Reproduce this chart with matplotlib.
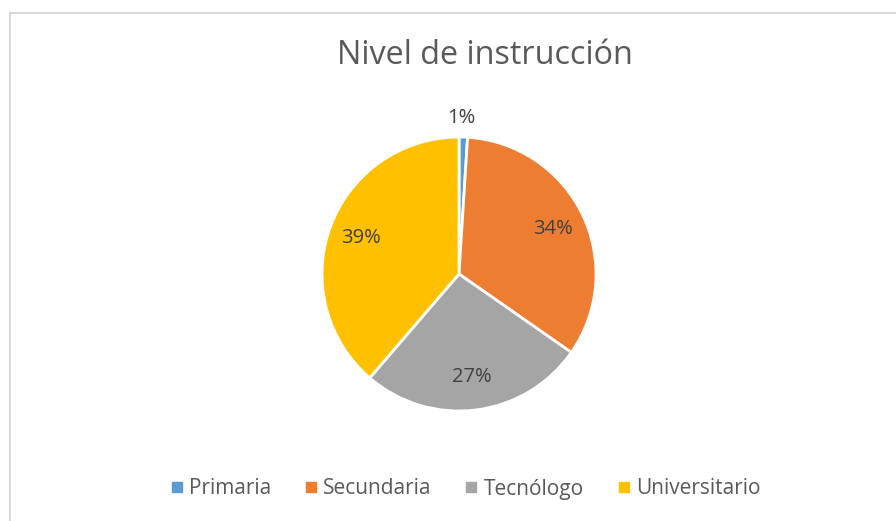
import matplotlib.pyplot as plt
from matplotlib.patches import Rectangle
from matplotlib.lines import Line2D

categories = ['Primaria', 'Secundaria', 'Tecnólogo', 'Universitario']
values = [1.0, 33.7, 26.6, 38.7]
colors = ['#5B9BD5', '#ED7D31', '#A5A5A5', '#FFC000']

W, H = 896, 521
fig = plt.figure(figsize=(W / 100, H / 100), dpi=100)
plt.rcParams['font.family'] = ['Open Sans', 'DejaVu Sans']

# chart frame (extends past right/bottom edge)
fig.patches.append(Rectangle((10 / W, -0.1), 1.2, 1.1 - 13 / H,
                             transform=fig.transFigure, fill=False,
                             edgecolor='#d9d9d9', linewidth=1.5))

cx, cy, r = 459, 274, 137
ax = fig.add_axes([(cx - r) / W, (H - cy - r) / H, 2 * r / W, 2 * r / H])
wedges, texts, autotexts = ax.pie(
    values, colors=colors, startangle=90, counterclock=False,
    autopct='%.0f%%', pctdistance=0.76, radius=1,
    wedgeprops=dict(edgecolor='white', linewidth=2),
    textprops=dict(color='#404040', fontsize=14.5))
autotexts[0].set_position((0.02, 1.14))
ax.set_xlim(-1, 1)
ax.set_ylim(-1, 1)
ax.axis('off')

fig.text(485 / W, 1 - 56 / H, 'Nivel de instrucción', ha='center', va='center',
         fontsize=23.3, color='#595959')

handles = [Line2D([], [], marker='s', linestyle='none', markersize=7,
                  markerfacecolor=c, markeredgecolor=c) for c in colors]
fig.legend(handles, categories, loc='center', bbox_to_anchor=(466 / W, 1 - 489 / H),
           ncol=4, frameon=False, fontsize=15, handlelength=0.5,
           handletextpad=0.35, columnspacing=1.65, labelcolor='#595959')

fig.savefig('out.png', dpi=100)
